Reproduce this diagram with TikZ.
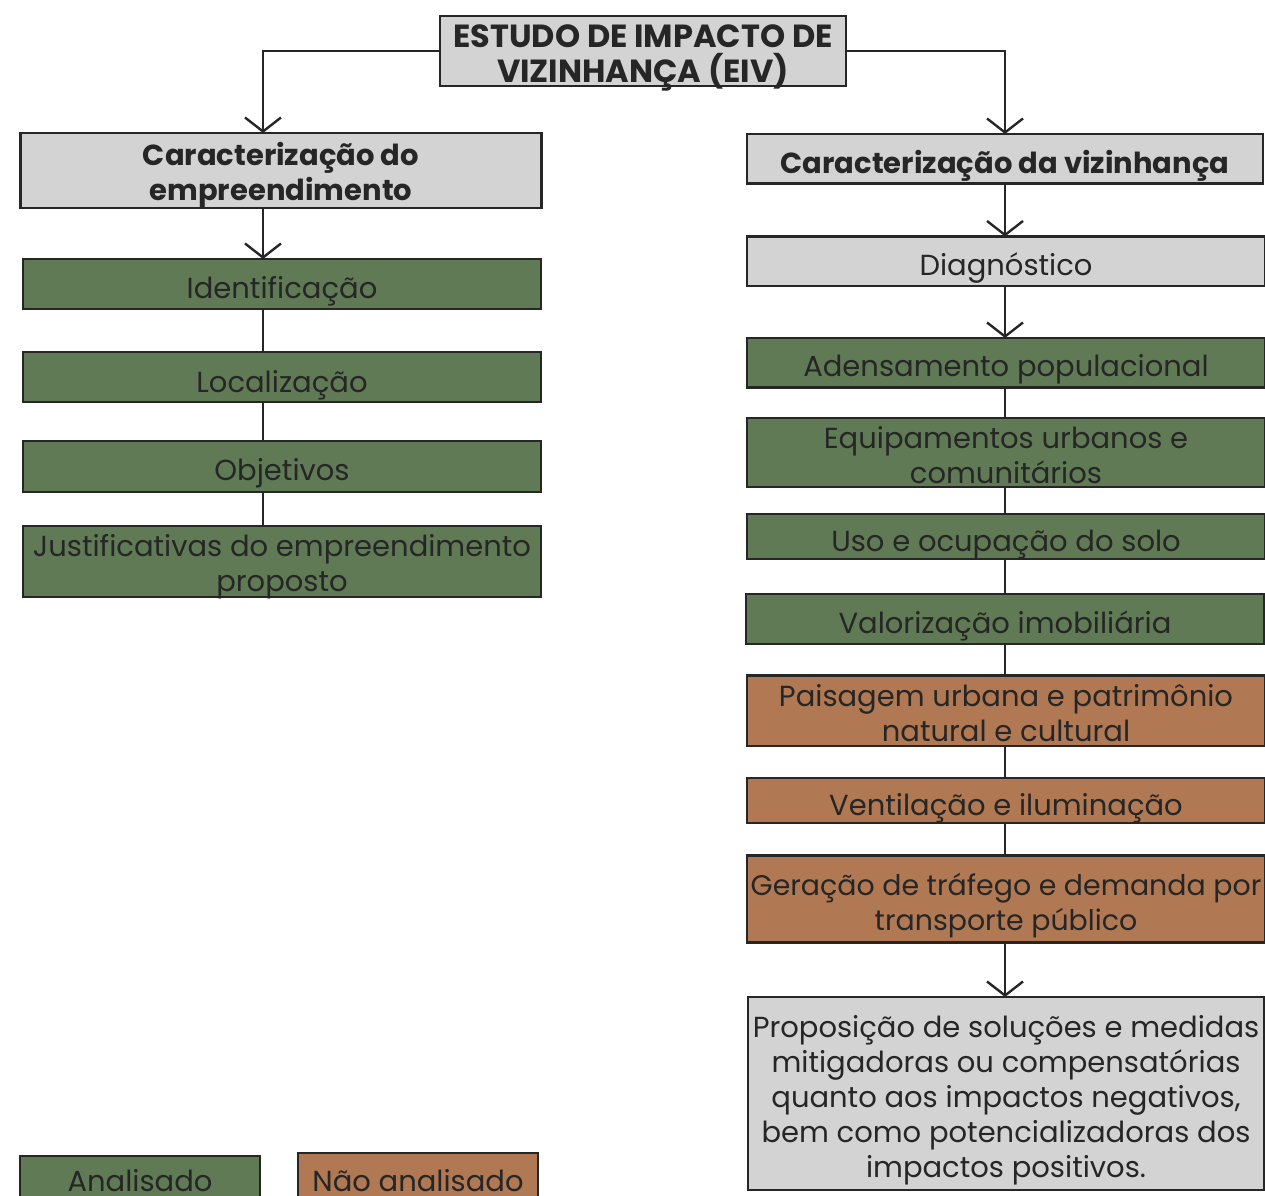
\documentclass[tikz,border=0pt]{standalone}
\usepackage{fontspec}
\setmainfont{Poppins}
\usetikzlibrary{arrows.meta}

\definecolor{boxgray}{HTML}{D3D3D3}
\definecolor{boxgreen}{HTML}{607A55}
\definecolor{boxbrown}{HTML}{B07853}
\definecolor{ink}{HTML}{262626}

\tikzset{
  box/.style={draw=ink, line width=2.4pt, text=ink, inner sep=0pt, outer sep=0pt,
    align=center, anchor=north, minimum width=518pt,
    font=\fontsize{29}{35}\selectfont},
  head/.style={box, fill=boxgray, font=\fontsize{29}{35}\selectfont\bfseries},
  grayb/.style={box, fill=boxgray},
  greenb/.style={box, fill=boxgreen},
  brownb/.style={box, fill=boxbrown},
  link/.style={draw=ink, line width=2.4pt},
  arr/.style={link, -{Straight Barb[length=14pt, width=36pt, line width=2.4pt]}}
}

\begin{document}
\begin{tikzpicture}[x=1pt, y=-1pt]
\useasboundingbox (0,0) rectangle (1265,1195);

\node[head, minimum width=406pt, text height=66pt, text depth=4pt,
  font=\fontsize{32}{35}\selectfont\bfseries] (eiv) at (643,16)
  {ESTUDO DE IMPACTO DE\\VIZINHANÇA (EIV)};

% left column
\node[head, minimum width=521pt, text height=67pt, text depth=8pt] (cemp) at (281,133)
  {Caracterização do\\empreendimento};
\node[greenb, text height=39pt, text depth=11pt] (iden) at (282,259) {Identificação};
\node[greenb, text height=40pt, text depth=10pt] (loca) at (282,352) {Localização};
\node[greenb, text height=39pt, text depth=12pt] (obje) at (282,441) {Objetivos};
\node[greenb, text height=65pt, text depth=6pt] (just) at (282,526)
  {Justificativas do empreendimento\\proposto};
\coordinate (lcol) at (263,0);

% right column
\node[head, minimum width=516pt, text height=39pt, text depth=10.5pt] (cviz) at (1005,134)
  {Caracterização da vizinhança};
\node[grayb, text height=38.5pt, text depth=11pt] (diag) at (1006,236.5) {Diagnóstico};
\node[greenb, text height=38.5pt, text depth=11pt] (aden) at (1006,338) {Adensamento populacional};
\node[greenb, text height=65pt, text depth=4pt] (equi) at (1006,418)
  {Equipamentos urbanos e\\comunitários};
\node[greenb, text height=37pt, text depth=8pt] (uso) at (1006,514) {Uso e ocupação do solo};
\node[greenb, text height=39pt, text depth=11pt] (valo) at (1005,594) {Valorização imobiliária};
\node[brownb, text height=66pt, text depth=4.5pt] (pais) at (1006,675.5)
  {Paisagem urbana e patrimônio\\natural e cultural};
\node[brownb, text height=37pt, text depth=8pt] (vent) at (1006,778) {Ventilação e iluminação};
\node[brownb, text height=75pt, text depth=12pt, font=\fontsize{28.4}{35}\selectfont] (gera) at (1006,855.5)
  {Geração de tráfego e demanda por\\transporte público};
\node[grayb, minimum width=516pt, text height=180pt, text depth=13pt] (prop) at (1006,997)
  {Proposição de soluções e medidas\\mitigadoras ou compensatórias\\quanto aos impactos negativos,\\bem como potencializadoras dos\\impactos positivos.};

% legend
\node[greenb, minimum width=240pt, text height=35pt, text depth=11pt] (anal) at (140,1156) {Analisado};
\node[brownb, minimum width=240pt, text height=38pt, text depth=11pt] (nana) at (418,1153) {Não analisado};

% connectors
\draw[arr] (eiv.west) -| (cemp.north -| lcol);
\draw[arr] (eiv.east) -| (cviz.north);
\draw[arr] (cemp.south -| lcol) -- (iden.north -| lcol);
\draw[link] (iden.south -| lcol) -- (loca.north -| lcol);
\draw[link] (loca.south -| lcol) -- (obje.north -| lcol);
\draw[link] (obje.south -| lcol) -- (just.north -| lcol);
\draw[arr] (cviz.south) -- (cviz.south |- diag.north);
\draw[arr] (cviz.south |- diag.south) -- (cviz.south |- aden.north);
\foreach \a/\b in {aden/equi, equi/uso, uso/valo, valo/pais, pais/vent, vent/gera}
  \draw[link] (cviz.south |- \a.south) -- (cviz.south |- \b.north);
\draw[arr] (cviz.south |- gera.south) -- (cviz.south |- prop.north);

\end{tikzpicture}
\end{document}
